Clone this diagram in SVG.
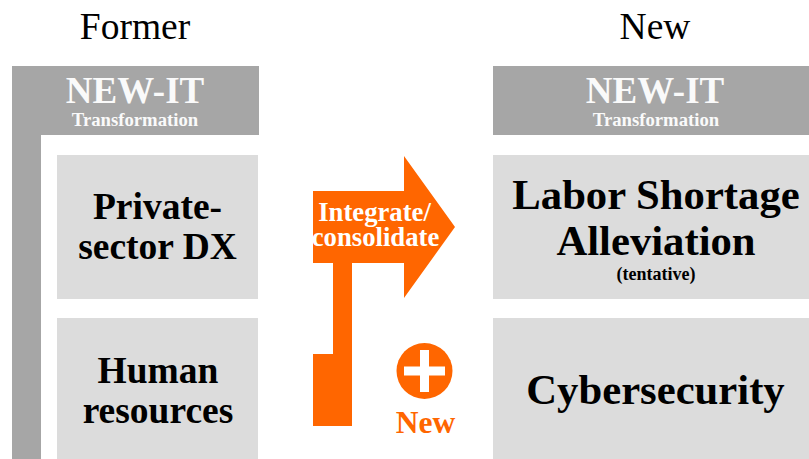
<svg xmlns="http://www.w3.org/2000/svg" width="809" height="459" viewBox="0 0 809 459">
<style>
text{font-family:"Liberation Serif","Times New Roman",serif;text-anchor:middle}
.h{font-size:37.500px;fill:#000}
.b{font-weight:bold}
.t1{font-size:37px;fill:#fafafa}
.t2{font-size:18.700px;fill:#fafafa}
.box{fill:#dcdcdc}
.gr{fill:#a6a6a6}
.n{font-size:37.500px;fill:#000}
.l{font-size:42.700px;fill:#000}
.w{font-size:26.700px;fill:#fff}
.or{fill:#ff6600}
</style>
<rect width="809" height="459" fill="#fff"/>
<g id="former-title"><text class="h" x="135" y="39">Former</text></g>
<g id="new-title"><text class="h" x="655" y="39">New</text></g>
<g id="former-header"><path class="gr" d="M12 66H259V135H41V459H12Z"/>
<text class="t1 b" x="135" y="103">NEW-IT</text><text class="t2 b" x="135" y="126">Transformation</text></g>
<g id="new-header"><rect class="gr" x="493" y="66" width="316" height="69"/>
<text class="t1 b" x="655" y="103">NEW-IT</text><text class="t2 b" x="656" y="126">Transformation</text></g>
<g id="private-dx"><rect class="box" x="57" y="155" width="201" height="144"/>
<text class="n b" x="157.500" y="219">Private-</text><text class="n b" x="157.500" y="259">sector DX</text></g>
<g id="human-resources"><rect class="box" x="57" y="318" width="201" height="141"/>
<text class="n b" x="158" y="383">Human</text><text class="n b" x="158" y="423">resources</text></g>
<g id="labor-shortage"><rect class="box" x="493" y="155" width="316" height="144"/>
<text class="l b" x="656" y="209">Labor Shortage</text><text class="l b" x="656" y="255">Alleviation</text>
<text class="b" style="font-size:18px" x="656" y="280">(tentative)</text></g>
<g id="cybersecurity"><rect class="box" x="493" y="318" width="316" height="141"/>
<text class="l b" x="655.500" y="404">Cybersecurity</text></g>
<g id="connectors"><path class="or" d="M313 191H404V156L455 227L404 298V263H352V426H313V354H333V263H313Z"/>
<text class="w b" x="374.500" y="221">Integrate/</text><text class="w b" x="375.500" y="246">consolidate</text></g>
<g id="new-badge"><circle class="or" cx="424.500" cy="371" r="28"/>
<path fill="#fff" d="M420 350H429V366.500H445V375.500H429V392H420V375.500H404V366.500H420Z"/>
<text class="b or" style="font-size:31.500px" x="425.500" y="433">New</text></g>
</svg>
